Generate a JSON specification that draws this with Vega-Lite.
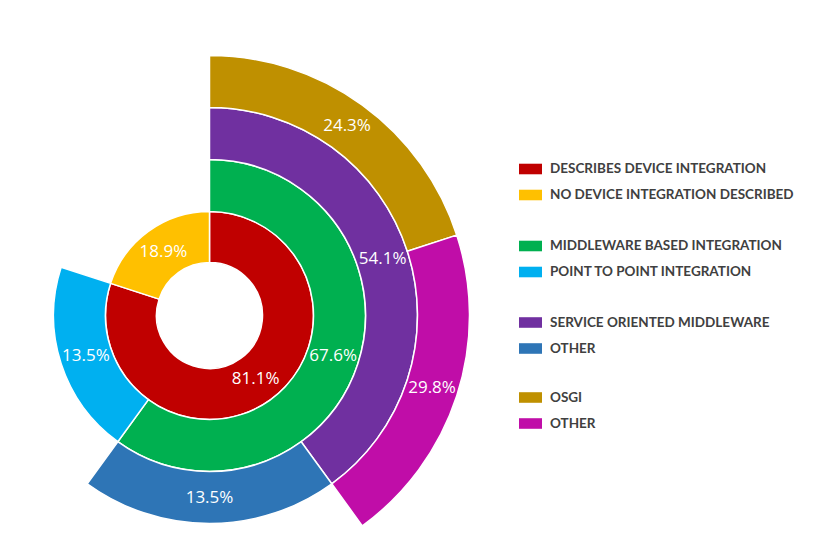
{
  "$schema": "https://vega.github.io/schema/vega-lite/v6.json",
  "autosize": "none",
  "padding": {"left": 0, "top": 0, "right": 409, "bottom": 0},
  "width": 419,
  "height": 631,
  "background": "white",
  "data": {
    "values": [
      {"level": 1, "order": 1, "key": "DESCRIBES DEVICE INTEGRATION", "angle": 288, "label": "81.1%"},
      {"level": 1, "order": 2, "key": "NO DEVICE INTEGRATION DESCRIBED", "angle": 72, "label": "18.9%"},
      {"level": 2, "order": 1, "key": "MIDDLEWARE BASED INTEGRATION", "angle": 216, "label": "67.6%"},
      {"level": 2, "order": 2, "key": "POINT TO POINT INTEGRATION", "angle": 72, "label": "13.5%"},
      {"level": 3, "order": 1, "key": "SERVICE ORIENTED MIDDLEWARE", "angle": 144, "label": "54.1%"},
      {"level": 3, "order": 2, "key": "OTHER", "angle": 72, "label": "13.5%"},
      {"level": 4, "order": 1, "key": "OSGI", "angle": 72, "label": "24.3%"},
      {"level": 4, "order": 2, "key": "OTHER", "angle": 72, "label": "29.8%"}
    ]
  },
  "config": {
    "view": {"stroke": null},
    "legend": {
      "title": null,
      "orient": "none",
      "symbolType": "M-1,-0.46H1V0.46H-1Z",
      "symbolSize": 529,
      "symbolStrokeWidth": 0,
      "symbolOpacity": 1,
      "labelFont": "Lato",
      "labelFontWeight": "bold",
      "labelFontSize": 13.5,
      "labelColor": "#404040",
      "labelOffset": 8,
      "rowPadding": 8,
      "padding": 0,
      "labelLimit": 400
    }
  },
  "resolve": {"scale": {"color": "independent"}},
  "layer": [
    {
      "transform": [{"filter": "datum.level == 1"}],
      "mark": {"type": "arc", "innerRadius": 53, "outerRadius": 104, "stroke": "white", "strokeWidth": 1.5},
      "encoding": {
        "theta": {"field": "angle", "type": "quantitative", "stack": true, "scale": {"domain": [0, 360]}},
        "order": {"field": "order", "type": "quantitative"},
        "color": {"field": "key", "type": "nominal",
          "scale": {"domain": ["DESCRIBES DEVICE INTEGRATION", "NO DEVICE INTEGRATION DESCRIBED"], "range": ["#C00000", "#FFC000"]},
          "legend": {"legendX": 519, "legendY": 157.5}}
      }
    },
    {
      "transform": [{"filter": "datum.level == 2"}],
      "mark": {"type": "arc", "innerRadius": 104, "outerRadius": 156, "stroke": "white", "strokeWidth": 1.5},
      "encoding": {
        "theta": {"field": "angle", "type": "quantitative", "stack": true},
        "order": {"field": "order", "type": "quantitative"},
        "color": {"field": "key", "type": "nominal",
          "scale": {"domain": ["MIDDLEWARE BASED INTEGRATION", "POINT TO POINT INTEGRATION"], "range": ["#00B050", "#00B0F0"]},
          "legend": {"legendX": 519, "legendY": 234.5}}
      }
    },
    {
      "transform": [{"filter": "datum.level == 3"}],
      "mark": {"type": "arc", "innerRadius": 156, "outerRadius": 208, "stroke": "white", "strokeWidth": 1.5},
      "encoding": {
        "theta": {"field": "angle", "type": "quantitative", "stack": true},
        "order": {"field": "order", "type": "quantitative"},
        "color": {"field": "key", "type": "nominal",
          "scale": {"domain": ["SERVICE ORIENTED MIDDLEWARE", "OTHER"], "range": ["#7030A0", "#2E75B6"]},
          "legend": {"legendX": 519, "legendY": 311}}
      }
    },
    {
      "transform": [{"filter": "datum.level == 4"}],
      "mark": {"type": "arc", "innerRadius": 208, "outerRadius": 260, "stroke": "white", "strokeWidth": 1.5},
      "encoding": {
        "theta": {"field": "angle", "type": "quantitative", "stack": true},
        "order": {"field": "order", "type": "quantitative"},
        "color": {"field": "key", "type": "nominal",
          "scale": {"domain": ["OSGI", "OTHER"], "range": ["#BF9000", "#C00DA8"]},
          "legend": {"legendX": 519, "legendY": 386}}
      }
    },
    {
      "transform": [{"filter": "datum.level == 1"}],
      "mark": {"type": "text", "radius": 78.5, "fill": "white", "font": "Open Sans", "fontSize": 17},
      "encoding": {
        "theta": {"field": "angle", "type": "quantitative", "stack": true},
        "order": {"field": "order", "type": "quantitative"},
        "text": {"field": "label"}
      }
    },
    {
      "transform": [{"filter": "datum.level == 2"}],
      "mark": {"type": "text", "radius": 130, "fill": "white", "font": "Open Sans", "fontSize": 17},
      "encoding": {
        "theta": {"field": "angle", "type": "quantitative", "stack": true},
        "order": {"field": "order", "type": "quantitative"},
        "text": {"field": "label"}
      }
    },
    {
      "transform": [{"filter": "datum.level == 3"}],
      "mark": {"type": "text", "radius": 182, "fill": "white", "font": "Open Sans", "fontSize": 17},
      "encoding": {
        "theta": {"field": "angle", "type": "quantitative", "stack": true},
        "order": {"field": "order", "type": "quantitative"},
        "text": {"field": "label"}
      }
    },
    {
      "transform": [{"filter": "datum.level == 4"}],
      "mark": {"type": "text", "radius": 234, "fill": "white", "font": "Open Sans", "fontSize": 17},
      "encoding": {
        "theta": {"field": "angle", "type": "quantitative", "stack": true},
        "order": {"field": "order", "type": "quantitative"},
        "text": {"field": "label"}
      }
    }
  ]
}
